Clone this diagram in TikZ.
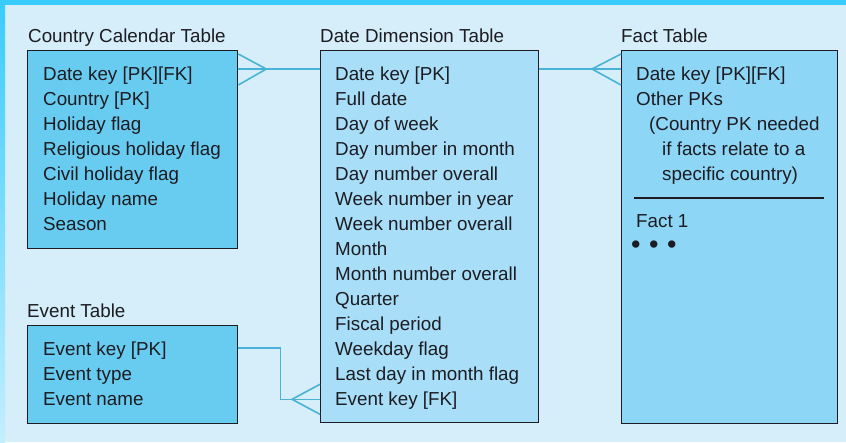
\documentclass[tikz,border=0pt]{standalone}
\usepackage{fontspec}
\setmainfont{Liberation Sans}
\definecolor{pagebg}{HTML}{D5EEFA}
\definecolor{bandcyan}{HTML}{38CCFC}
\definecolor{bandlight}{HTML}{C4EEFD}
\definecolor{darkfill}{HTML}{68CCF0}
\definecolor{datefill}{HTML}{A8DEF7}
\definecolor{factfill}{HTML}{8ED6F5}
\definecolor{linkblue}{HTML}{4AB2D6}
\definecolor{ink}{HTML}{1C1C22}
\newcommand\tabfont{\fontsize{18.8pt}{25pt}\selectfont}
\tikzset{
  tablebox/.style={draw=ink, line width=1.3pt, anchor=north west, inner sep=0pt},
  rowtext/.style={anchor=base west, inner sep=0pt, font=\tabfont, text=ink},
  titletext/.style={anchor=base west, inner sep=0pt, font=\tabfont, text=ink},
  conn/.style={draw=linkblue, line width=1.6pt, line join=miter},
  sepline/.style={draw=ink, line width=1.1pt}
}
\begin{document}
\begin{tikzpicture}[x=1pt,y=-1pt]
  % page background with the cyan frame on top and left
  \fill[pagebg] (0,0) rectangle (846,442);
  \useasboundingbox (0,0) rectangle (846,442);
  \fill[bandcyan] (0,0) rectangle (846,5);
  \shade[top color=bandcyan, bottom color=bandlight] (0,0) rectangle (5,442);

  % tables
  \node[tablebox, fill=darkfill, minimum width=210pt, minimum height=198pt] (cc) at (27,50) {};
  \node[tablebox, fill=datefill, minimum width=218pt, minimum height=372pt] (dd) at (320,50) {};
  \node[tablebox, fill=factfill, minimum width=216pt, minimum height=373pt] (ft) at (621,50) {};
  \node[tablebox, fill=darkfill, minimum width=210pt, minimum height=98pt] (ev) at (27,325) {};

  % titles
  \node[titletext] (cctitle) at (28,42) {Country Calendar Table};
  \node[titletext] (ddtitle) at (320,42) {Date Dimension Table};
  \node[titletext] (fttitle) at (621,42) {Fact Table};
  \node[titletext] (evtitle) at (27,317) {Event Table};

  % Country Calendar rows
  \foreach \t [count=\i] in {{Date key [PK][FK]}, {Country [PK]}, {Holiday flag},
      {Religious holiday flag}, {Civil holiday flag}, {Holiday name}, {Season}}
    \node[rowtext] (cc\i) at (43,{55+25*\i}) {\t};

  % Date Dimension rows
  \foreach \t [count=\i] in {{Date key [PK]}, {Full date}, {Day of week},
      {Day number in month}, {Day number overall}, {Week number in year},
      {Week number overall}, {Month}, {Month number overall}, {Quarter},
      {Fiscal period}, {Weekday flag}, {Last day in month flag}, {Event key [FK]}}
    \node[rowtext] (dd\i) at (335,{55+25*\i}) {\t};

  % Event rows
  \foreach \t [count=\i] in {{Event key [PK]}, {Event type}, {Event name}}
    \node[rowtext] (ev\i) at (43,{330+25*\i}) {\t};

  % Fact rows
  \node[rowtext] (ft1) at (636,80) {Date key [PK][FK]};
  \node[rowtext] (ft2) at (636,105) {Other PKs};
  \node[rowtext] (ft3) at (649,130) {(Country PK needed};
  \node[rowtext] (ft4) at (662,155) {if facts relate to a};
  \node[rowtext] (ft5) at (662,180) {specific country)};
  \draw[sepline] ([xshift=13pt,yshift=-148pt]ft.north west) -- ([xshift=-14pt,yshift=-148pt]ft.north east);
  \node[rowtext] (ftfact) at (636,227) {Fact 1};
  \node[anchor=base west, inner sep=0pt, text=ink, font=\fontsize{27pt}{27pt}\selectfont] (ftdots) at (631,253) {•\hspace{1pt} •\hspace{1pt} •};

  % Country Calendar >--- Date Dimension
  \draw[conn] ([yshift=-19pt]cc.north east) -- ([yshift=-19pt]dd.north west);
  \draw[conn] ([yshift=-4pt]cc.north east) -- ([xshift=28pt,yshift=-19pt]cc.north east)
              -- ([yshift=-35pt]cc.north east);

  % Date Dimension ---< Fact
  \draw[conn] ([yshift=-19pt]dd.north east) -- ([yshift=-19pt]ft.north west);
  \draw[conn] ([yshift=-4pt]ft.north west) -- ([xshift=-29pt,yshift=-19pt]ft.north west)
              -- ([yshift=-35pt]ft.north west);

  % Event ---< Date Dimension
  \draw[conn] ([yshift=-23pt]ev.north east) -- ++(42pt,0pt) |- ([yshift=24pt]dd.south west);
  \draw[conn] ([yshift=39pt]dd.south west) -- ([xshift=-28pt,yshift=24pt]dd.south west)
              -- ([yshift=9pt]dd.south west);
\end{tikzpicture}
\end{document}
